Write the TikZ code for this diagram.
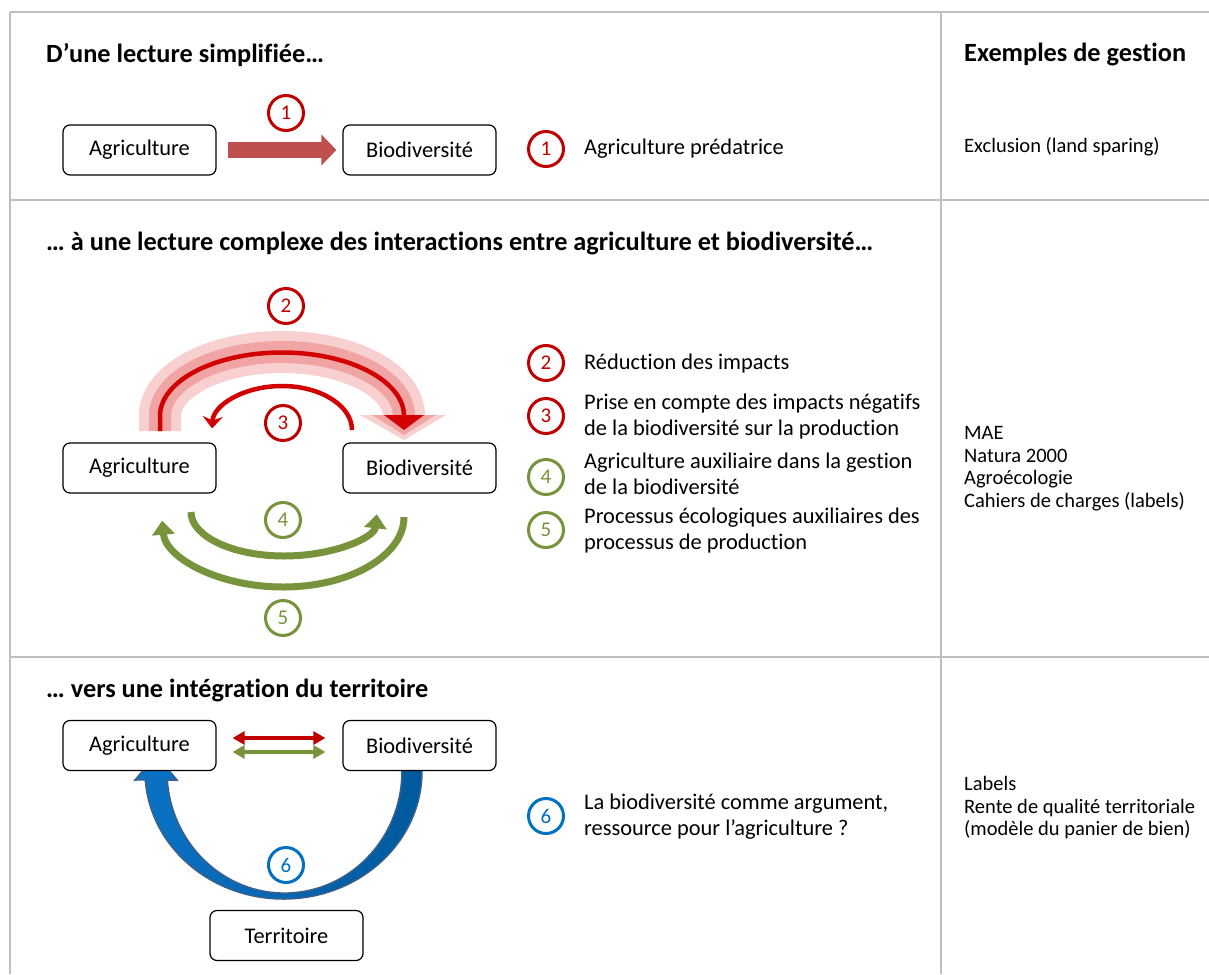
\documentclass[tikz,border=0pt]{standalone}
\usepackage{fontspec}
\setmainfont{Carlito}[Ligatures=NoCommon]
\usetikzlibrary{arrows.meta}
\definecolor{gridgray}{HTML}{BFBFBF}
\definecolor{darkred}{HTML}{C00000}
\definecolor{arrowred}{HTML}{C0504D}
\definecolor{olivegreen}{HTML}{77933C}
\definecolor{blueA}{HTML}{0A72C4}
\definecolor{blueB}{HTML}{00599C}
\definecolor{blueEdge}{HTML}{3A5F8E}
\definecolor{blueNum}{HTML}{0070C0}
\definecolor{pinkA}{HTML}{F8D0D0}
\definecolor{pinkB}{HTML}{F0A4A4}
\definecolor{redline}{HTML}{D20000}
\newcommand{\mybody}{\fontsize{22.4}{26}\selectfont}
\newcommand{\mycol}{\fontsize{20.5}{22.5}\selectfont}
\newcommand{\mytitle}{\fontsize{26.3}{30}\selectfont\bfseries}
\begin{document}
\begin{tikzpicture}[x=1pt,y=-1pt,
  gridline/.style={draw=gridgray, line width=2pt},
  box/.style={draw=black, line width=1.2pt, rounded corners=7pt, fill=white,
    minimum width=153pt, minimum height=50pt, inner sep=0pt, font=\mybody},
  numc/.style={circle, line width=3pt, minimum size=35pt, inner sep=0pt, font=\fontsize{21}{24}\selectfont},
  rednum/.style={numc, draw=darkred, text=darkred},
  greennum/.style={numc, draw=olivegreen, text=olivegreen},
  bluenum/.style={numc, draw=blueNum, text=blueNum},
  ttl/.style={anchor=west, inner sep=0pt, font=\mytitle},
  txt/.style={anchor=west, inner sep=0pt, align=left, font=\mybody},
  coltxt/.style={anchor=west, inner sep=0pt, align=left, font=\mycol},
  dbl/.style={line width=3.2pt, {Triangle[width=13pt,length=12pt]}-{Triangle[width=13pt,length=12pt]}},
]
\useasboundingbox (0,0) rectangle (1209,974);
\fill[white] (0,0) rectangle (1209,974);

% grid
\draw[gridline] (10,12) -- (1209,12);
\draw[gridline] (10,200) -- (1209,200);
\draw[gridline] (10,657) -- (1209,657);
\draw[gridline] (10,12) -- (10,974);
\draw[gridline] (941,12) -- (941,974);

% titles
\node[ttl] (t1) at (46,55) {D’une lecture simplifiée…};
\node[ttl] (t2) at (46,243) {… à une lecture complexe des interactions entre agriculture et biodiversité…};
\node[ttl] (t3) at (46,690) {… vers une intégration du territoire};
\node[ttl] (tg) at (964,55) {Exemples de gestion};

% ---------- section 1
\node[box] (a1) at (139.5,150) {Agriculture};
\node[box] (b1) at (419.5,150) {Biodiversité};
\draw[arrowred, line width=16pt, -{Triangle[width=30pt,length=15pt]}]
  ([xshift=11pt]a1.east) -- ([xshift=-6pt]b1.west);
\node[rednum] (n1) at (286,113) {1};
\node[rednum] (l1) at (546,149) {1};
\node[txt] (l1t) at (584,149) {Agriculture prédatrice};
\node[coltxt] (g1) at (964,147) {Exclusion (land sparing)};

% ---------- section 2
% arc 2 : layered band
\draw[pinkA, line width=42pt] (160,431) -- (160,416)
  arc[start angle=180, end angle=360, x radius=122, y radius=64];
\fill[pinkA] (360,415) -- (446,415) -- (404,440) -- cycle;
\draw[pinkB, line width=22pt] (160,431) -- (160,416)
  arc[start angle=180, end angle=360, x radius=122, y radius=64];
\fill[pinkB] (372,415) -- (436,415) -- (404,435) -- cycle;
\draw[redline, line width=4.5pt] (160,431) -- (160,416)
  arc[start angle=180, end angle=360, x radius=122, y radius=63.5];
\fill[redline] (384,415) -- (424,415) -- (404,430) -- cycle;
% arc 3
\draw[redline, line width=4.5pt, -{Stealth[width=20pt,length=12pt,inset=4pt]}]
  (352,430) arc[start angle=360, end angle=182, x radius=70, y radius=44];
% arcs 4, 5
\draw[olivegreen, line width=7pt, -{Triangle[width=22pt,length=14pt]}]
  (191,512) arc[start angle=180, end angle=3, x radius=93, y radius=44];
\draw[olivegreen, line width=7pt, -{Triangle[width=22pt,length=14pt]}]
  (404,517) arc[start angle=0, end angle=177, x radius=121, y radius=70];

\node[box] (a2) at (139.5,468) {Agriculture};
\node[box] (b2) at (419.5,468) {Biodiversité};
\node[rednum] (n2) at (286,306) {2};
\node[rednum] (n3) at (283,423) {3};
\node[greennum] (n4) at (283,520) {4};
\node[greennum] (n5) at (283,618) {5};

\node[rednum] (l2) at (546,363) {2};
\node[rednum] (l3) at (546,416) {3};
\node[greennum] (l4) at (546,477) {4};
\node[greennum] (l5) at (546,530) {5};
\node[txt] (l2t) at (584,364) {Réduction des impacts};
\node[txt] (l3t) at (584,417) {Prise en compte des impacts négatifs\\de la biodiversité sur la production};
\node[txt] (l4t) at (584,474) {Agriculture auxiliaire dans la gestion\\de la biodiversité};
\node[txt] (l5t) at (584,531) {Processus écologiques auxiliaires des\\processus de production};
\node[coltxt] (g2) at (964,468.5) {MAE\\Natura 2000\\Agroécologie\\Cahiers de charges (labels)};

% ---------- section 3
\path[draw=blueEdge, line width=1.5pt, left color=blueA, right color=blueB]
  (422,760) -- (422,771)
  arc[start angle=0, end angle=176, x radius=138.5, y radius=128]
  -- (135,780) -- (156,755) -- (177,780) -- (167.3,780)
  arc[start angle=175.8, end angle=0, x radius=117.5, y radius=122]
  -- (402,760) -- cycle;

\node[box] (a3) at (139.5,745.5) {Agriculture};
\node[box] (b3) at (419.5,745.5) {Biodiversité};
\node[box] (c3) at (286.5,935.5) {Territoire};
\draw[darkred, dbl]
  ([xshift=16pt,yshift=7.5pt]a3.east) -- ([xshift=-17pt,yshift=7.5pt]b3.west);
\draw[olivegreen, dbl]
  ([xshift=16pt,yshift=-6.5pt]a3.east) -- ([xshift=-17pt,yshift=-6.5pt]b3.west);
\node[bluenum] (n6) at (286,865) {6};
\node[bluenum] (l6) at (546,816) {6};
\node[txt] (l6t) at (584,817) {La biodiversité comme argument,\\ressource pour l’agriculture ?};
\node[coltxt] (g3) at (964,808) {Labels\\Rente de qualité territoriale\\(modèle du panier de bien)};
\end{tikzpicture}
\end{document}
